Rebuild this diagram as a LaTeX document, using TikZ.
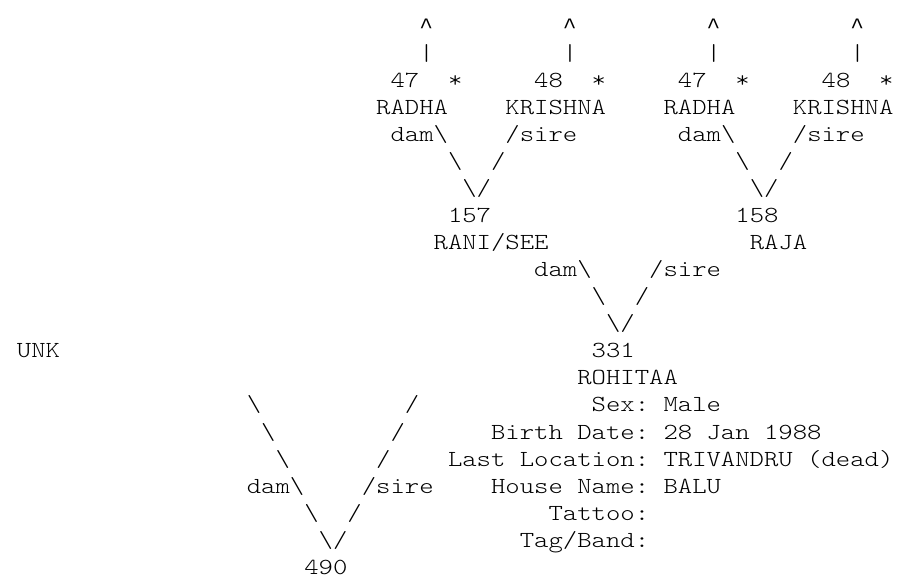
\documentclass[tikz,border=0pt]{standalone}
\usepackage{fontspec}
\usepackage{tikz}
\newfontfamily\pedfont[FakeStretch=1.19]{Latin Modern Mono Light}
\newfontfamily\caretfont[FakeStretch=1.04]{Liberation Mono}
\tikzset{ped/.style = {anchor = base west, inner sep = 0, outer sep = 0,
    font = \pedfont\fontsize{23}{27}\selectfont\frenchspacing}}
\tikzset{caret/.style = {ped, font = \caretfont\fontsize{22}{27}\selectfont}}

\begin{document}
\begin{tikzpicture}[x=14.37pt, y=-27.06pt]
      \fill [white] (0pt, 0pt) rectangle (899pt, -585pt);
      \begin{scope}[shift={(16.9pt, -33.1pt)}]
      % grandparents
      \node [caret] (up1) at (28, 0) {\textasciicircum};
      \node [caret] (up2) at (38, 0) {\textasciicircum};
      \node [caret] (up3) at (48, 0) {\textasciicircum};
      \node [caret] (up4) at (58, 0) {\textasciicircum};
      \node [ped] (bar1) at (28, 1) {|};
      \node [ped] (bar2) at (38, 1) {|};
      \node [ped] (bar3) at (48, 1) {|};
      \node [ped] (bar4) at (58, 1) {|};
      \node [ped] (id1) at (26, 2) {47};
      \node [ped] (star1) at (30, 2) {*};
      \node [ped] (id2) at (36, 2) {48};
      \node [ped] (star2) at (40, 2) {*};
      \node [ped] (id3) at (46, 2) {47};
      \node [ped] (star3) at (50, 2) {*};
      \node [ped] (id4) at (56, 2) {48};
      \node [ped] (star4) at (60, 2) {*};
      \node [ped] (name1) at (25, 3) {RADHA};
      \node [ped] (name2) at (34, 3) {KRISHNA};
      \node [ped] (name3) at (45, 3) {RADHA};
      \node [ped] (name4) at (54, 3) {KRISHNA};
      \node [ped] (dam1) at (26, 4) {dam\textbackslash};
      \node [ped] (sire1) at (34, 4) {/sire};
      \node [ped] (dam2) at (46, 4) {dam\textbackslash};
      \node [ped] (sire2) at (54, 4) {/sire};
      \node [ped] (dleg1) at (30, 5) {\textbackslash};
      \node [ped] (sleg1) at (33, 5) {/};
      \node [ped] (dleg2) at (50, 5) {\textbackslash};
      \node [ped] (sleg2) at (53, 5) {/};
      \node [ped] (vee1) at (31, 6) {\textbackslash/};
      \node [ped] (vee2) at (51, 6) {\textbackslash/};
      % parents
      \node [ped] (id5) at (30, 7) {157};
      \node [ped] (id6) at (50, 7) {158};
      \node [ped] (name5) at (29, 8) {RANI/SEE};
      \node [ped] (name6) at (51, 8) {RAJA};
      \node [ped] (dam3) at (36, 9) {dam\textbackslash};
      \node [ped] (sire3) at (44, 9) {/sire};
      \node [ped] (dleg3) at (40, 10) {\textbackslash};
      \node [ped] (sleg3) at (43, 10) {/};
      \node [ped] (vee3) at (41, 11) {\textbackslash/};
      % sire of 490
      \node [ped] (unk) at (0, 12) {UNK};
      \node [ped] (id7) at (40, 12) {331};
      \node [ped] (name7) at (39, 13) {ROHITAA};
      \node [ped] (sex) at (40, 14) {Sex: Male};
      \node [ped] (birth) at (33, 15) {Birth Date: 28 Jan 1988};
      \node [ped] (loc) at (30, 16) {Last Location: TRIVANDRU (dead)};
      \node [ped] (house) at (33, 17) {House Name: BALU};
      \node [ped] (tattoo) at (37, 18) {Tattoo:};
      \node [ped] (tag) at (35, 19) {Tag/Band:};
      % bird 490
      \node [ped] (dleg4) at (16, 14) {\textbackslash};
      \node [ped] (sleg4) at (27, 14) {/};
      \node [ped] (dleg5) at (17, 15) {\textbackslash};
      \node [ped] (sleg5) at (26, 15) {/};
      \node [ped] (dleg6) at (18, 16) {\textbackslash};
      \node [ped] (sleg6) at (25, 16) {/};
      \node [ped] (dam4) at (16, 17) {dam\textbackslash};
      \node [ped] (sire4) at (24, 17) {/sire};
      \node [ped] (dleg7) at (20, 18) {\textbackslash};
      \node [ped] (sleg7) at (23, 18) {/};
      \node [ped] (vee4) at (21, 19) {\textbackslash/};
      \node [ped] (id8) at (20, 20) {490};
      \end{scope}
\end{tikzpicture}
\end{document}
